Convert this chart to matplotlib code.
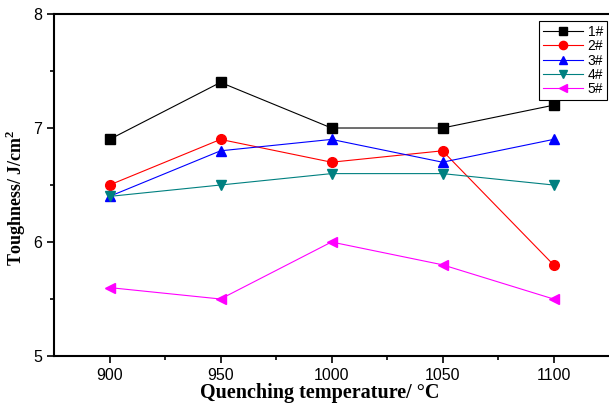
import numpy as np
import matplotlib
matplotlib.use('Agg')
import matplotlib.pyplot as plt

temps = [900, 950, 1000, 1050, 1100]
s1 = [6.9, 7.4, 7.0, 7.0, 7.2]
s2 = [6.5, 6.9, 6.7, 6.8, 5.8]
s3 = [6.4, 6.8, 6.9, 6.7, 6.9]
s4 = [6.4, 6.5, 6.6, 6.6, 6.5]
s5 = [5.6, 5.5, 6.0, 5.8, 5.5]
labels = ['1#', '2#', '3#', '4#', '5#']

series = [s1, s2, s3, s4, s5]
colors = ['black', 'red', 'blue', '#008080', 'magenta']
markers = ['s', 'o', '^', 'v', '<']

fig = plt.figure(figsize=(6.09, 4.05), dpi=100)
ax = fig.add_axes([0.0887, 0.121, 0.9113, 0.8444])

for ys, c, m, lab in zip(series, colors, markers, labels):
    ax.plot(temps, ys, color=c, marker=m, markersize=7, linewidth=0.8, label=lab)

ax.set_xlim(875, 1125)
ax.set_ylim(5, 8)
ax.set_xticks(temps)
ax.set_xticks([925, 975, 1025, 1075], minor=True)
ax.set_yticks([5, 6, 7, 8])
ax.set_yticks([5.5, 6.5, 7.5], minor=True)
ax.tick_params(which='both', direction='out', labelsize=11.5, width=1.2)
ax.tick_params(which='major', length=5)
ax.tick_params(which='minor', length=3)
for lbl in ax.get_xticklabels() + ax.get_yticklabels():
    lbl.set_family('Liberation Sans')
for sp in ['left', 'bottom', 'top']:
    ax.spines[sp].set_linewidth(1.5)
ax.spines['right'].set_visible(False)

ax.set_xlabel('Quenching temperature/ \u00b0C', family='Liberation Serif',
              fontweight='bold', fontsize=14.5)
ax.xaxis.set_label_coords(0.479, -0.079)
ax.set_ylabel('Toughness/ J/cm$^\\mathregular{2}$', family='Liberation Serif',
              fontweight='bold', fontsize=13)
ax.yaxis.set_label_coords(-0.047, 0.462)

leg = ax.legend(loc='upper right', bbox_to_anchor=(0.997, 0.98), borderaxespad=0,
                fancybox=False, edgecolor='black', framealpha=1, markerscale=0.85,
                handlelength=2.9, labelspacing=0.02, borderpad=0.3,
                handletextpad=0.3, prop={'family': 'Liberation Sans', 'size': 10})
leg.get_frame().set_linewidth(0.8)

fig.savefig('out.png', dpi=100)
